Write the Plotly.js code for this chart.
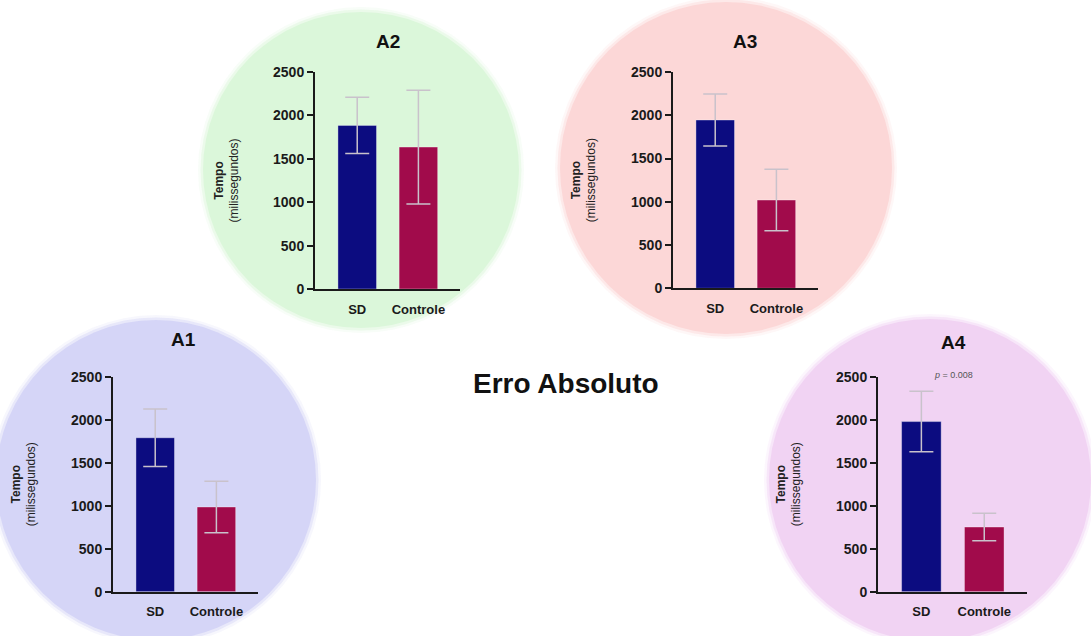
<!DOCTYPE html>
<html>
<head>
<meta charset="utf-8">
<script src="https://cdn.plot.ly/plotly-3.0.1.min.js"></script>
<style>
html,body{margin:0;padding:0;background:#ffffff;}
#chart{width:1091px;height:636px;}
</style>
</head>
<body>
<div id="chart"></div>
<script>
// ---- data ----
const categories = ['SD', 'Controle'];
const a1Means = [1790, 985];
const a1Errors = [335, 300];
const a2Means = [1885, 1635];
const a2Errors = [325, 655];
const a3Means = [1945, 1020];
const a3Errors = [300, 355];
const a4Means = [1978, 752];
const a4Errors = [352, 160];
const yTickValues = [0, 500, 1000, 1500, 2000, 2500];
const panelTitles = ['A1', 'A2', 'A3', 'A4'];
const mainTitle = 'Erro Absoluto';
const yTitleBold = 'Tempo';
const yTitleSub = '(milissegundos)';
const pValueText = '<i>p</i> = 0.008';

// ---- styling / layout ----
const W = 1091, H = 636;
const FONT = 'Liberation Sans, Arial, sans-serif';
const barColors = ['#0c0c80', '#a10b4b'];
const errColor = '#c9c2cb';

// pixel boxes for each panel: [xLeft, xRight, yTop, yBottom]
const boxes = [
  [113, 258, 376.7, 591.7],
  [315, 460, 72, 289],
  [673, 818, 72, 288.3],
  [878, 1027, 376.7, 591.7]
];
// circles: [cx, cy, r, color]
const circles = [
  [156, 480, 160, '#d5d5f7'],
  [361, 170, 158, '#dbf7da'],
  [726, 168, 166, '#fcd7d7'],
  [930, 480, 161, '#f1d3f3']
];
const titlePos = [[183, 339], [388, 42], [745, 42], [953, 342]];

const meansList = [a1Means, a2Means, a3Means, a4Means];
const errList = [a1Errors, a2Errors, a3Errors, a4Errors];

const px = x => x / W;
const py = y => 1 - y / H;

const traces = [];
const layout = {
  width: W, height: H,
  margin: {l: 0, r: 0, t: 0, b: 0},
  paper_bgcolor: '#ffffff',
  plot_bgcolor: 'rgba(0,0,0,0)',
  showlegend: false,
  bargap: 0.37,
  font: {family: FONT, color: '#111'},
  shapes: [],
  annotations: []
};

// circles with soft edges
circles.forEach(c => {
  const [cx, cy, r, col] = c;
  [[5, 0.2], [2.5, 0.45], [0, 1]].forEach(([d, op]) => {
    layout.shapes.push({
      type: 'circle', xref: 'paper', yref: 'paper', layer: 'below',
      x0: px(cx - r - d), x1: px(cx + r + d), y0: py(cy + r + d), y1: py(cy - r - d),
      fillcolor: col, opacity: op, line: {width: 0}
    });
  });
});

for (let i = 0; i < 4; i++) {
  const sfx = i === 0 ? '' : String(i + 1);
  const [xl, xr, yt, yb] = boxes[i];
  traces.push({
    type: 'bar',
    x: categories,
    y: meansList[i],
    xaxis: 'x' + sfx, yaxis: 'y' + sfx,
    marker: {color: barColors, line: {color: 'rgba(255,255,255,0.35)', width: 1}},
    error_y: {type: 'data', array: errList[i], visible: true, color: errColor, thickness: 1.5, width: 12},
    hoverinfo: 'none'
  });
  layout['xaxis' + sfx] = {
    domain: [px(xl), px(xr)],
    anchor: 'y' + sfx,
    range: [-0.69, 1.68],
    showline: true, linecolor: '#1a1a1a', linewidth: 2,
    ticks: '', showgrid: false, zeroline: false,
    ticklabelstandoff: 7,
    tickfont: {family: FONT, size: 13, weight: 'bold', color: '#1a1a1a'},
    fixedrange: true
  };
  layout['yaxis' + sfx] = {
    domain: [py(yb), py(yt)],
    anchor: 'x' + sfx,
    range: [0, 2500],
    tickvals: yTickValues,
    ticktext: yTickValues.map(String),
    showline: true, linecolor: '#1a1a1a', linewidth: 2,
    ticks: 'outside', ticklen: 6, tickwidth: 2, tickcolor: '#1a1a1a',
    showgrid: false, zeroline: false,
    tickfont: {family: FONT, size: 14, weight: 'bold', color: '#1a1a1a'},
    fixedrange: true
  };
  // panel title
  layout.annotations.push({
    xref: 'paper', yref: 'paper', x: px(titlePos[i][0]), y: py(titlePos[i][1]),
    text: '<b>' + panelTitles[i] + '</b>', showarrow: false,
    xanchor: 'center', yanchor: 'middle',
    font: {family: FONT, size: 19, color: '#111'}
  });
  // y-axis title
  layout.annotations.push({
    xref: 'paper', yref: 'paper', x: px(xl - 89), y: py((yt + yb) / 2),
    text: '<b>' + yTitleBold + '</b><br>' + yTitleSub, showarrow: false,
    textangle: -90, xanchor: 'center', yanchor: 'middle',
    font: {family: FONT, size: 12, color: '#222'}
  });
}

// p value
layout.annotations.push({
  xref: 'paper', yref: 'paper', x: px(953), y: py(375),
  text: pValueText, showarrow: false, xanchor: 'center', yanchor: 'middle',
  font: {family: FONT, size: 9, color: '#555'}
});
// main title
layout.annotations.push({
  xref: 'paper', yref: 'paper', x: px(566), y: py(383),
  text: '<b>' + mainTitle + '</b>', showarrow: false, xanchor: 'center', yanchor: 'middle',
  font: {family: FONT, size: 28, color: '#111'}
});

Plotly.newPlot('chart', traces, layout, {staticPlot: true, displayModeBar: false});
</script>
</body>
</html>
